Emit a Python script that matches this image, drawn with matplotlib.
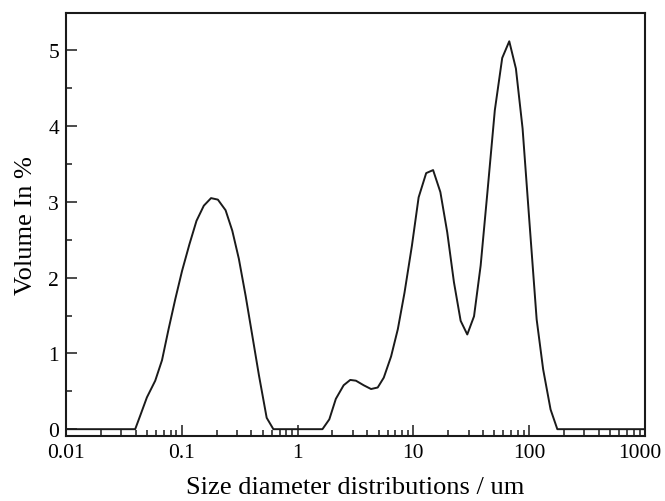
import numpy as np
import matplotlib
matplotlib.use("Agg")
import matplotlib.pyplot as plt
import matplotlib.transforms as mtransforms
from matplotlib.ticker import LogLocator, FixedLocator, FixedFormatter, MultipleLocator

plt.rcParams["font.family"] = ["Liberation Serif", "DejaVu Serif"]

# particle size distribution
size_um = [0.01, 0.0396, 0.0438, 0.050, 0.059, 0.0675, 0.0769, 0.088, 0.1006,
           0.1164, 0.134, 0.155, 0.179, 0.205, 0.239, 0.273, 0.311, 0.356,
           0.406, 0.464, 0.541, 0.618,
           1.64, 1.88, 2.14, 2.50, 2.85, 3.19, 3.72, 4.31, 4.92, 5.55, 6.42,
           7.34, 8.38, 9.71, 11.1, 12.9, 14.8, 17.1, 19.6, 22.4, 25.6, 29.2,
           33.4, 38.1, 43.6, 50.5, 58.5, 67.3, 76.8, 87.7, 100, 116, 132, 153,
           175, 1000]
volume_pct = [0, 0, 0.18, 0.42, 0.64, 0.91, 1.32, 1.72, 2.09,
              2.44, 2.75, 2.95, 3.05, 3.03, 2.89, 2.62, 2.25, 1.76,
              1.24, 0.71, 0.15, 0,
              0, 0.13, 0.40, 0.58, 0.65, 0.64, 0.58, 0.53, 0.55, 0.68, 0.96,
              1.32, 1.80, 2.42, 3.06, 3.38, 3.42, 3.13, 2.60, 1.94, 1.43, 1.25,
              1.49, 2.16, 3.13, 4.21, 4.90, 5.12, 4.76, 3.97, 2.78, 1.45, 0.79, 0.26,
              0, 0]

xticks = [0.01, 0.1, 1, 10, 100, 1000]
xtick_labels = ["0.01", "0.1", "1", "10", "100", "1000"]

fig = plt.figure(figsize=(6.65, 5.02), dpi=100)
ax = fig.add_axes([0.0992, 0.1295, 0.8707, 0.8436])

ax.plot(size_um, volume_pct, color="#1a1a1a", lw=1.4)

ax.set_xscale("log")
ax.set_xlim(0.01, 1000)
ax.set_ylim(-0.09, 5.5)

ax.xaxis.set_major_locator(FixedLocator(xticks))
ax.xaxis.set_major_formatter(FixedFormatter(xtick_labels))
ax.xaxis.set_minor_locator(LogLocator(base=10, subs=np.arange(2, 10), numticks=20))
ax.xaxis.set_minor_formatter(plt.NullFormatter())
ax.yaxis.set_major_locator(MultipleLocator(1))
ax.yaxis.set_minor_locator(MultipleLocator(0.5))

ax.tick_params(which="both", direction="in", top=False, right=False,
               labelsize=15.5, width=1.1, color="#1a1a1a")
ax.tick_params(which="major", length=8, pad=5)
ax.tick_params(which="minor", length=4)

# nudge the last label so it stays inside the figure
last = ax.get_xticklabels()[-1]
last.set_transform(last.get_transform() +
                   mtransforms.ScaledTranslation(-5 / 100, 0, fig.dpi_scale_trans))

for s in ax.spines.values():
    s.set_linewidth(1.5)
    s.set_color("#1a1a1a")

ax.set_xlabel("Size diameter distributions / um", fontsize=19, labelpad=10)
ax.set_ylabel("Volume In %", fontsize=19, labelpad=8)

fig.savefig("out.png", dpi=100)
